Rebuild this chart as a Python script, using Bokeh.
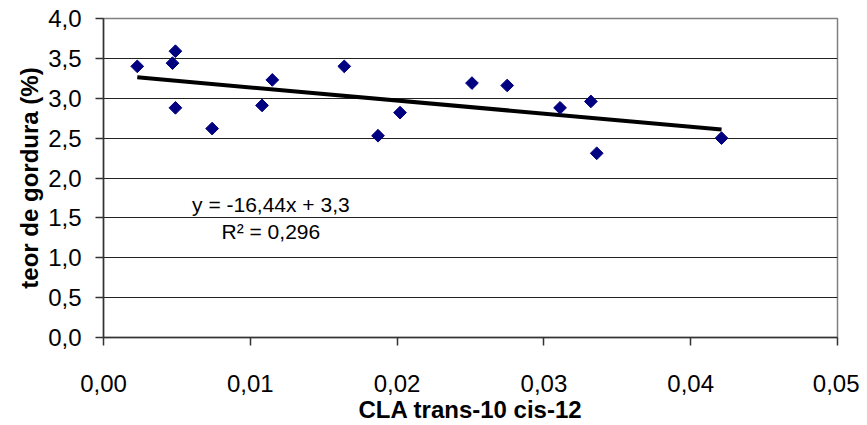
import math
from bokeh.plotting import figure
from bokeh.models import ColumnDataSource, FixedTicker, CustomJSTickFormatter, Range1d
from bokeh.core.properties import value
from bokeh.embed import file_html
from bokeh.resources import INLINE

# data
cla = [0.0023, 0.0047, 0.0049, 0.0049, 0.0074, 0.0108, 0.0115, 0.0164,
       0.0187, 0.0202, 0.0251, 0.0275, 0.0311, 0.0332, 0.0336, 0.0421]
fat = [3.40, 3.44, 3.59, 2.88, 2.62, 2.91, 3.23, 3.40,
       2.53, 2.82, 3.19, 3.16, 2.88, 2.96, 2.31, 2.50]
slope = -16.44
intercept = 3.3
eq_text = ["y = -16,44x + 3,3", "R² = 0,296"]
x_ticks = [0.0, 0.01, 0.02, 0.03, 0.04, 0.05]
y_ticks = [0.0, 0.5, 1.0, 1.5, 2.0, 2.5, 3.0, 3.5, 4.0]

FONT = "Liberation Sans"

p = figure(width=859, height=425, output_backend="svg", toolbar_location=None,
           x_range=Range1d(0, 0.05), y_range=Range1d(0, 4.0),
           min_border_left=103, min_border_top=18, min_border_right=22, min_border_bottom=88)
p.outline_line_color = "#808080"
p.outline_line_width = 1.5
p.background_fill_color = "white"
p.border_fill_color = "white"

p.xgrid.visible = False
p.ygrid.ticker = FixedTicker(ticks=y_ticks)
p.ygrid.grid_line_color = "#222222"
p.ygrid.grid_line_width = 1

for ax in (p.xaxis[0], p.yaxis[0]):
    ax.axis_line_color = "#333333"
    ax.axis_line_width = 1.5
    ax.major_tick_line_color = "#333333"
    ax.major_tick_line_width = 1.5
    ax.major_tick_out = 8
    ax.major_tick_in = 0
    ax.minor_tick_line_color = None
    ax.major_label_text_font = FONT
    ax.major_label_text_font_size = "24px"
    ax.major_label_text_color = "black"
    ax.axis_label_text_font = FONT
    ax.axis_label_text_font_size = "24px"
    ax.axis_label_text_font_style = "bold"
    ax.axis_label_text_color = "black"

p.xaxis.ticker = FixedTicker(ticks=x_ticks)
p.yaxis.ticker = FixedTicker(ticks=y_ticks)
p.xaxis.formatter = CustomJSTickFormatter(code="return tick.toFixed(2).replace('.', ',');")
p.yaxis.formatter = CustomJSTickFormatter(code="return tick.toFixed(1).replace('.', ',');")
p.xaxis.axis_label = "CLA trans-10 cis-12"
p.yaxis.axis_label = "teor de gordura (%)"
p.xaxis.major_label_standoff = 29
p.xaxis.axis_label_standoff = 1
p.yaxis.major_label_standoff = 14
p.yaxis.axis_label_standoff = 2

# trend line
xmin, xmax = min(cla), max(cla)
p.line([xmin, xmax], [slope * xmin + intercept, slope * xmax + intercept],
       line_color="black", line_width=4)

src = ColumnDataSource(dict(x=cla, y=fat))
p.scatter("x", "y", source=src, marker="square", size=9, angle=math.pi / 4,
          fill_color="#000080", line_color="#000080")

p.text(x=[0.0114, 0.0114], y=[1.67, 1.33], text=eq_text,
       text_font=value(FONT), text_font_size="21px", text_color="black",
       text_align="center", text_baseline="middle")

open("out.html", "w").write(file_html(p, INLINE))
